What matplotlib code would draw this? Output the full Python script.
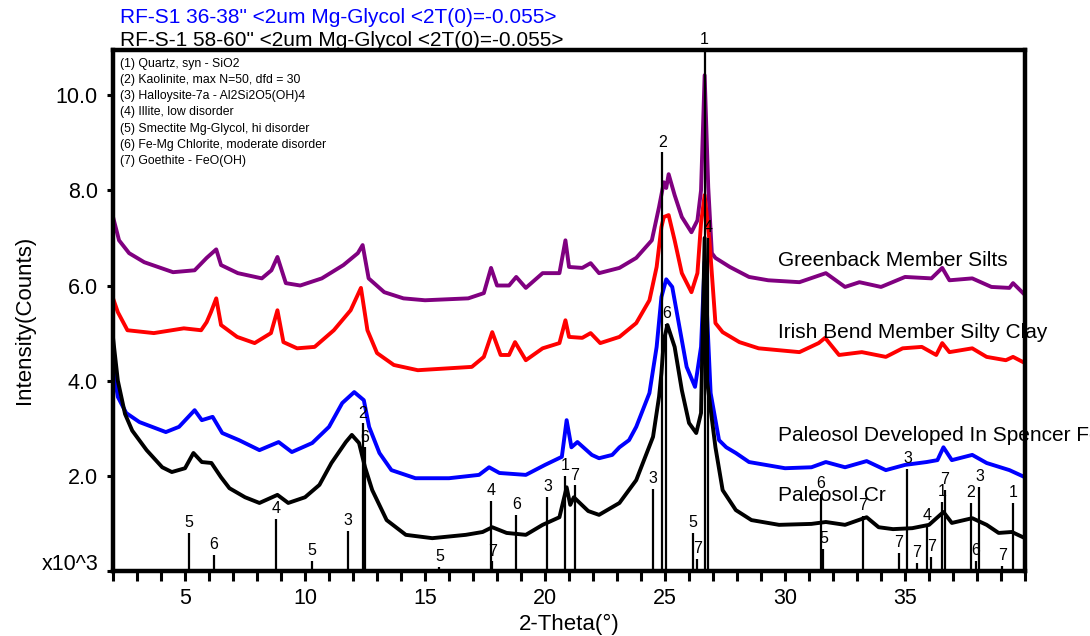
import matplotlib.pyplot as plt

plt.rcParams['font.family'] = ['Liberation Sans', 'DejaVu Sans']

# measured traces: 2-theta (deg) and intensity (x10^3 counts)
green_x = [2.0, 2.25, 2.67, 3.3, 4.5, 5.4, 5.9, 6.3, 6.5, 7.2, 8.2, 8.6, 8.85, 9.2, 9.8,
           10.7, 11.6, 12.2, 12.4, 12.65, 13.3, 14.1, 15.0, 16.8, 17.45, 17.75, 18.0, 18.5,
           18.8, 19.2, 19.9, 20.6, 20.85, 21.0, 21.55, 21.9, 22.25, 23.1, 23.8, 24.45, 24.75,
           24.95, 25.05, 25.15, 25.4, 25.7, 26.1, 26.35, 26.5, 26.65, 26.8, 26.95, 27.1, 27.7,
           28.5, 29.3, 30.6, 31.7, 32.5, 33.1, 34.0, 35.0, 36.1, 36.55, 36.85, 37.8, 38.6,
           39.35, 39.5, 40.0]
green_y = [7.44, 6.95, 6.68, 6.49, 6.28, 6.32, 6.58, 6.76, 6.43, 6.26, 6.15, 6.32, 6.6, 6.05, 6.0,
           6.15, 6.43, 6.68, 6.85, 6.15, 5.86, 5.73, 5.69, 5.73, 5.84, 6.37, 6.0, 6.0,
           6.18, 5.95, 6.26, 6.26, 6.95, 6.39, 6.37, 6.47, 6.26, 6.37, 6.58, 6.95, 7.65,
           8.17, 8.05, 8.34, 7.9, 7.44, 7.12, 7.37, 8.0, 10.42, 8.07, 6.68, 6.58, 6.39,
           6.18, 6.11, 6.07, 6.26, 5.97, 6.07, 5.97, 6.18, 6.15, 6.37, 6.11, 6.15, 5.97,
           5.95, 6.05, 5.8]

irish_x = [2.0, 2.2, 2.6, 3.7, 4.95, 5.67, 5.9, 6.08, 6.3, 6.5, 7.17, 7.9, 8.58, 8.85, 9.1,
           9.67, 10.4, 11.2, 11.9, 12.33, 12.6, 13.0, 13.7, 14.7, 16.95, 17.45, 17.8, 18.15,
           18.5, 18.75, 19.2, 19.9, 20.6, 20.85, 21.0, 21.55, 21.9, 22.3, 23.1, 23.8, 24.35,
           24.65, 24.85, 24.95, 25.15, 25.4, 25.7, 26.1, 26.35, 26.5, 26.65, 26.85, 27.1, 27.4,
           28.1, 28.9, 30.6, 31.4, 31.67, 32.25, 33.2, 34.2, 34.9, 35.7, 36.3, 36.55, 36.85,
           37.8, 38.4, 39.2, 39.5, 40.0]
irish_y = [5.73, 5.44, 5.06, 5.0, 5.1, 5.06, 5.23, 5.44, 5.73, 5.17, 4.92, 4.79, 5.0, 5.48, 4.81,
           4.68, 4.71, 5.06, 5.48, 5.95, 5.06, 4.58, 4.33, 4.22, 4.29, 4.5, 5.02, 4.54,
           4.54, 4.81, 4.43, 4.68, 4.79, 5.27, 4.92, 4.9, 5.0, 4.79, 4.92, 5.21, 5.69,
           6.39, 7.23, 7.44, 7.48, 6.95, 6.26, 5.86, 6.26, 7.31, 7.9, 6.95, 5.21, 5.02,
           4.81, 4.68, 4.6, 4.79, 4.9, 4.54, 4.6, 4.5, 4.68, 4.71, 4.54, 4.79, 4.6,
           4.68, 4.5, 4.43, 4.5, 4.37]

spencer_x = [2.0, 2.2, 2.55, 3.1, 4.2, 4.75, 5.4, 5.7, 6.15, 6.55, 7.25, 8.1, 8.9, 9.45, 10.3,
             11.0, 11.55, 12.05, 12.45, 12.67, 13.1, 13.6, 14.6, 16.0, 17.25, 17.67, 18.1, 19.2,
             20.0, 20.7, 20.9, 21.1, 21.35, 21.95, 22.25, 22.8, 23.1, 23.5, 23.8, 24.35, 24.65,
             24.85, 25.05, 25.3, 25.6, 25.9, 26.25, 26.5, 26.65, 26.9, 27.25, 27.55, 27.95, 28.5,
             30.0, 31.1, 31.7, 32.5, 33.4, 34.2, 35.0, 35.9, 36.35, 36.6, 36.95, 37.8, 38.4,
             39.35, 40.0]
spencer_y = [4.29, 3.66, 3.32, 3.13, 2.92, 3.03, 3.38, 3.17, 3.24, 2.9, 2.75, 2.54, 2.71, 2.5, 2.69,
             3.03, 3.53, 3.76, 3.59, 3.03, 2.48, 2.12, 1.95, 1.95, 2.02, 2.18, 2.06, 2.02,
             2.23, 2.4, 3.17, 2.6, 2.71, 2.44, 2.37, 2.44, 2.6, 2.75, 3.03, 3.74, 4.71,
             5.76, 6.13, 5.97, 5.13, 4.29, 3.87, 4.71, 6.5, 3.74, 2.75, 2.6, 2.48, 2.29,
             2.16, 2.18, 2.29, 2.18, 2.31, 2.12, 2.23, 2.29, 2.33, 2.6, 2.33, 2.44, 2.27,
             2.12, 1.97]

cr_x = [2.0, 2.2, 2.5, 2.8, 3.4, 4.05, 4.45, 5.0, 5.35, 5.7, 6.1, 6.5, 6.85, 7.5, 8.1,
        8.85, 9.3, 10.0, 10.6, 11.1, 11.7, 11.95, 12.25, 12.5, 12.8, 13.4, 14.2, 15.3, 16.7,
        17.4, 17.8, 18.4, 19.2, 19.9, 20.6, 20.9, 21.05, 21.2, 21.8, 22.25, 23.1, 23.8, 24.5,
        24.75, 24.85, 24.95, 25.1, 25.4, 25.7, 26.0, 26.3, 26.5, 26.65, 26.75, 27.1, 27.4,
        27.95, 28.6, 29.75, 31.1, 31.7, 32.5, 33.4, 33.9, 34.5, 35.3, 36.0, 36.6, 36.95,
        37.8, 38.4, 38.9, 39.45, 40.0]
cr_y = [4.9, 4.0, 3.3, 2.95, 2.54, 2.18, 2.08, 2.16, 2.48, 2.29, 2.27, 1.97, 1.74, 1.55, 1.43,
        1.6, 1.43, 1.55, 1.81, 2.27, 2.71, 2.86, 2.69, 2.18, 1.7, 1.07, 0.76, 0.69, 0.76,
        0.82, 0.92, 0.8, 0.76, 0.97, 1.13, 1.76, 1.39, 1.55, 1.26, 1.18, 1.43, 1.91, 2.82,
        3.66, 4.16, 4.85, 5.17, 4.71, 3.8, 3.11, 2.9, 3.32, 7.0, 4.0, 2.6, 1.7,
        1.28, 1.07, 0.97, 0.99, 1.03, 0.97, 1.13, 0.92, 0.88, 0.9, 0.97, 1.24, 1.01,
        1.11, 0.97, 0.8, 0.82, 0.69]

series_names = ["Greenback Member Silts", "Irish Bend Member Silty Clay",
                "Paleosol Developed In Spencer Formation", "Paleosol Cr"]
series_label_y = [6.53, 5.02, 2.84, 1.58]

# reference pattern sticks: position, height, phase number
stick_pos = [5.15, 6.2, 8.8, 10.3, 11.8, 12.4, 12.5, 15.6, 17.75, 17.8, 18.8, 20.1, 20.85,
             21.25, 24.5, 24.88, 25.05, 26.15, 26.35, 26.65, 26.8, 31.5, 31.6, 33.25, 34.75,
             35.1, 35.5, 35.9, 36.1, 36.55, 36.65, 37.75, 37.95, 38.1, 39.05, 39.5]
stick_h = [0.80, 0.34, 1.09, 0.21, 0.84, 3.10, 2.60, 0.08, 1.47, 0.20, 1.18, 1.55, 2.0,
           1.80, 1.72, 8.80, 5.20, 0.80, 0.25, 10.95, 7.0, 1.62, 0.46, 1.16, 0.38,
           2.14, 0.17, 0.95, 0.30, 1.45, 1.70, 1.43, 0.22, 1.76, 0.10, 1.43]
stick_lab = ['5', '6', '4', '5', '3', '2', '6', '5', '4', '7', '6', '3', '1',
             '7', '3', '2', '6', '5', '7', '1', '4', '6', '5', '7', '7',
             '3', '7', '4', '7', '1', '7', '2', '6', '3', '7', '1']

phases = ["(1) Quartz, syn - SiO2",
          "(2) Kaolinite, max N=50, dfd = 30",
          "(3) Halloysite-7a - Al2Si2O5(OH)4",
          "(4) Illite, low disorder",
          "(5) Smectite Mg-Glycol, hi disorder",
          "(6) Fe-Mg Chlorite, moderate disorder",
          "(7) Goethite - FeO(OH)"]

fig = plt.figure(figsize=(10.9, 6.36), dpi=100)
ax = fig.add_axes([0.1037, 0.1022, 0.8367, 0.8192])

ax.plot(green_x, green_y, color='#800080', lw=2.8)
ax.plot(irish_x, irish_y, color='#ff0000', lw=2.8)
ax.plot(spencer_x, spencer_y, color='#0000ff', lw=2.8)
ax.plot(cr_x, cr_y, color='black', lw=2.8)

ax.vlines(stick_pos, 0, stick_h, color='black', lw=1.6, zorder=5)
for p, h, lab in zip(stick_pos, stick_h, stick_lab):
    ax.annotate(lab, (p, h), xytext=(0, 2), textcoords='offset points',
                ha='center', va='bottom', fontsize=11.5, zorder=6, annotation_clip=False)

for name, yy in zip(series_names, series_label_y):
    ax.text(29.7, yy, name, fontsize=15, va='center', ha='left', clip_on=False)

ax.text(0.008, 0.985, "\n".join(phases), transform=ax.transAxes, fontsize=8.8,
        va='top', ha='left', linespacing=1.47)

ax.set_xlim(2, 40)
ax.set_ylim(0, 10.95)
ax.set_xticks([5, 10, 15, 20, 25, 30, 35])
ax.set_xticks(range(2, 41), minor=True)
ax.set_yticks([0, 2, 4, 6, 8, 10])
ax.set_yticklabels(['', '2.0', '4.0', '6.0', '8.0', '10.0'])
ax.tick_params(axis='x', which='both', direction='out', length=7, width=2.2,
               labelsize=15.5, pad=5)
ax.tick_params(axis='y', direction='out', length=4, width=2.2, labelsize=15.5, pad=7)
for s in ax.spines.values():
    s.set_linewidth(3.2)

ax.set_xlabel("2-Theta(°)", fontsize=16)
ax.set_ylabel("Intensity(Counts)", fontsize=16)
ax.xaxis.set_label_coords(0.5, -0.082)
ax.yaxis.set_label_coords(-0.0855, 0.482)
ax.text(-0.016, 0.013, "x10^3", transform=ax.transAxes, fontsize=15.5,
        ha='right', va='center')

fig.text(0.110, 0.973, 'RF-S1 36-38" <2um Mg-Glycol <2T(0)=-0.055>', color='#0000ff',
         fontsize=15, ha='left', va='center')
fig.text(0.110, 0.937, 'RF-S-1 58-60" <2um Mg-Glycol <2T(0)=-0.055>', color='black',
         fontsize=15, ha='left', va='center')

fig.savefig('out.png', dpi=100)
